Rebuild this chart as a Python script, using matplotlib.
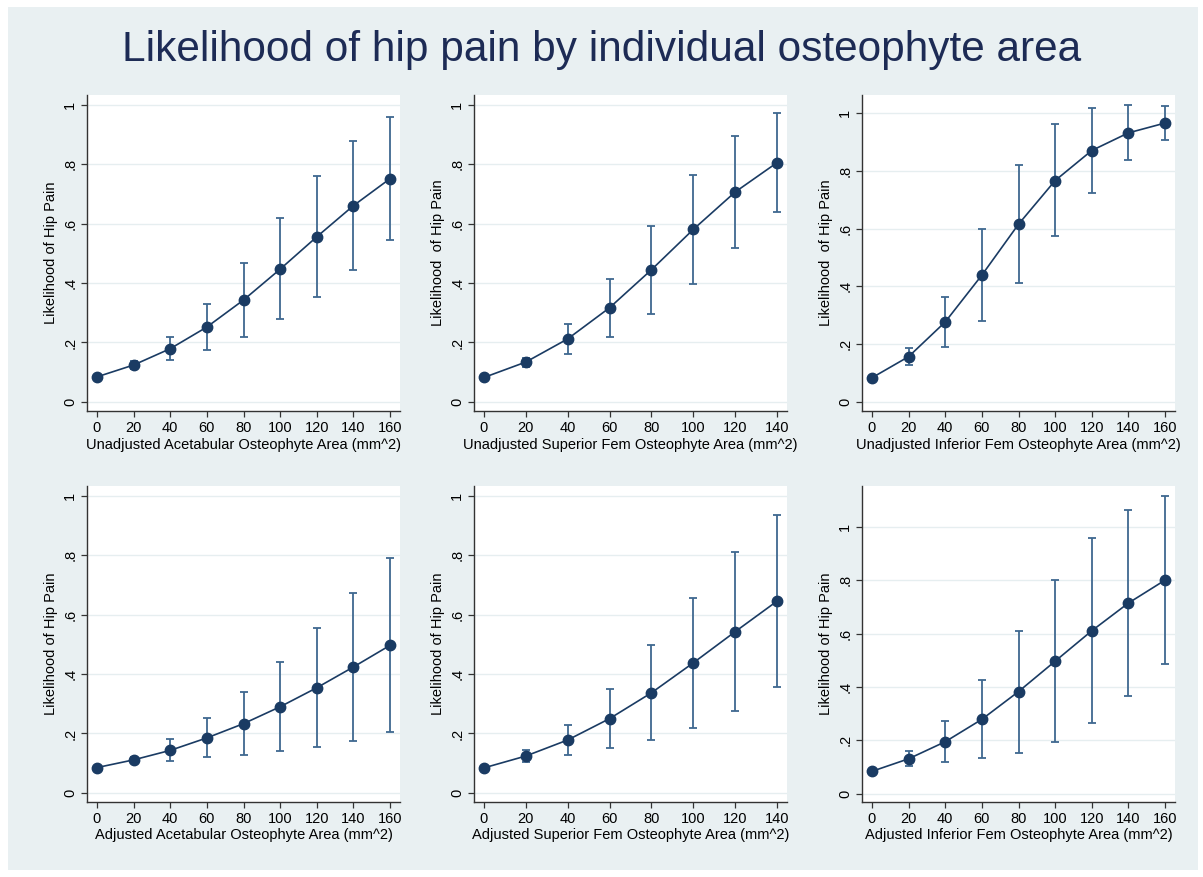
import matplotlib
matplotlib.use('Agg')
import matplotlib.pyplot as plt
from matplotlib.patches import Rectangle

plt.rcParams['font.family'] = ['Liberation Sans', 'DejaVu Sans']

# x values (mm^2)
x160 = [0, 20, 40, 60, 80, 100, 120, 140, 160]
x140 = [0, 20, 40, 60, 80, 100, 120, 140]

# Unadjusted acetabular
ua_p = [0.084, 0.124, 0.179, 0.252, 0.343, 0.447, 0.556, 0.661, 0.752]
ua_lo = [0.084, 0.110, 0.140, 0.176, 0.220, 0.278, 0.353, 0.444, 0.545]
ua_hi = [0.084, 0.137, 0.218, 0.329, 0.467, 0.619, 0.761, 0.879, 0.960]

# Unadjusted superior femoral
us_p = [0.082, 0.134, 0.212, 0.317, 0.445, 0.581, 0.707, 0.806]
us_lo = [0.082, 0.118, 0.161, 0.220, 0.297, 0.398, 0.517, 0.639]
us_hi = [0.082, 0.149, 0.261, 0.415, 0.593, 0.765, 0.896, 0.973]

# Unadjusted inferior femoral
ui_p = [0.084, 0.157, 0.277, 0.439, 0.615, 0.766, 0.870, 0.931, 0.965]
ui_lo = [0.084, 0.128, 0.190, 0.280, 0.412, 0.573, 0.723, 0.836, 0.908]
ui_hi = [0.084, 0.187, 0.363, 0.599, 0.819, 0.960, 1.016, 1.028, 1.023]

# Adjusted acetabular
aa_p = [0.085, 0.111, 0.143, 0.185, 0.233, 0.290, 0.354, 0.424, 0.497]
aa_lo = [0.085, 0.100, 0.108, 0.120, 0.129, 0.140, 0.155, 0.174, 0.204]
aa_hi = [0.085, 0.122, 0.180, 0.251, 0.339, 0.442, 0.557, 0.675, 0.791]

# Adjusted superior femoral
as_p = [0.084, 0.124, 0.178, 0.250, 0.337, 0.438, 0.543, 0.646]
as_lo = [0.084, 0.103, 0.127, 0.150, 0.178, 0.217, 0.277, 0.355]
as_hi = [0.084, 0.143, 0.230, 0.350, 0.499, 0.658, 0.812, 0.936]

# Adjusted inferior femoral
ai_p = [0.084, 0.131, 0.195, 0.279, 0.383, 0.497, 0.611, 0.715, 0.801]
ai_lo = [0.084, 0.103, 0.118, 0.134, 0.153, 0.193, 0.264, 0.365, 0.487]
ai_hi = [0.084, 0.159, 0.272, 0.426, 0.611, 0.801, 0.959, 1.065, 1.118]

yticks = [0, 0.2, 0.4, 0.6, 0.8, 1.0]
ytick_labels = ['0', '.2', '.4', '.6', '.8', '1']

W, H = 1203, 877
bg = '#e9f0f2'
navy = '#1a3b63'
ci_col = '#3f6890'

fig = plt.figure(figsize=(W / 100, H / 100), dpi=100)
fig.patch.set_facecolor('white')
fig.patches.append(Rectangle((8 / W, 1 - 870 / H), 1190 / W, 863 / H,
                             transform=fig.transFigure, facecolor=bg,
                             edgecolor='none', zorder=-10))

fig.text(0.5, 1 - 50 / H, 'Likelihood of hip pain by individual osteophyte area',
         ha='center', va='center', fontsize=30.5, color='#1d2b55')

panels = [
    # (left px, top px, x, p, lo, hi, xlabel, ylabel, ymax)
    (87, 95, x160, ua_p, ua_lo, ua_hi, 'Unadjusted Acetabular Osteophyte Area (mm^2)',
     'Likelihood of Hip Pain', 1.034),
    (474, 95, x140, us_p, us_lo, us_hi, 'Unadjusted Superior Fem Osteophyte Area (mm^2)',
     'Likelihood  of Hip Pain', 1.034),
    (862, 95, x160, ui_p, ui_lo, ui_hi, 'Unadjusted Inferior Fem Osteophyte Area (mm^2)',
     'Likelihood  of Hip Pain', 1.062),
    (87, 486, x160, aa_p, aa_lo, aa_hi, 'Adjusted Acetabular Osteophyte Area (mm^2)',
     'Likelihood of Hip Pain', 1.034),
    (474, 486, x140, as_p, as_lo, as_hi, 'Adjusted Superior Fem Osteophyte Area (mm^2)',
     'Likelihood of Hip Pain', 1.034),
    (862, 486, x160, ai_p, ai_lo, ai_hi, 'Adjusted Inferior Fem Osteophyte Area (mm^2)',
     'Likelihood of Hip Pain', 1.154),
]

pw, ph = 313, 316
for left, top, xs, p, lo, hi, xl, yl, ymax in panels:
    ax = fig.add_axes([left / W, 1 - (top + ph) / H, pw / W, ph / H])
    ax.set_facecolor('white')
    yerr = [[pi - l for pi, l in zip(p, lo)], [h - pi for pi, h in zip(p, hi)]]
    ax.errorbar(xs, p, yerr=yerr, fmt='none', ecolor=ci_col, elinewidth=1.3,
                capsize=3, capthick=1.3, zorder=2)
    ax.plot(xs, p, '-o', color=navy, linewidth=1.2, markersize=7.5, zorder=3)

    xmax = xs[-1]
    pad = xmax * 0.034
    ax.set_xlim(-pad, xmax + pad)
    ax.set_ylim(-0.031, ymax)
    ax.set_xticks(xs)
    ax.set_yticks(yticks)
    ax.set_yticklabels(ytick_labels, rotation=90, va='center')
    ax.grid(axis='y', color='#e6eef0', linewidth=1.0)
    ax.set_axisbelow(True)
    for s in ['top', 'right']:
        ax.spines[s].set_visible(False)
    for s in ['left', 'bottom']:
        ax.spines[s].set_color('#333333')
        ax.spines[s].set_linewidth(1.0)
    ax.tick_params(direction='out', length=4, width=0.9, color='#333333',
                   labelsize=10.5, labelcolor='black', pad=3)
    ax.set_xlabel(xl, fontsize=10.5, labelpad=2)
    ax.set_ylabel(yl, fontsize=10.5, labelpad=4)

fig.savefig('out.png', dpi=100, facecolor=fig.get_facecolor())
